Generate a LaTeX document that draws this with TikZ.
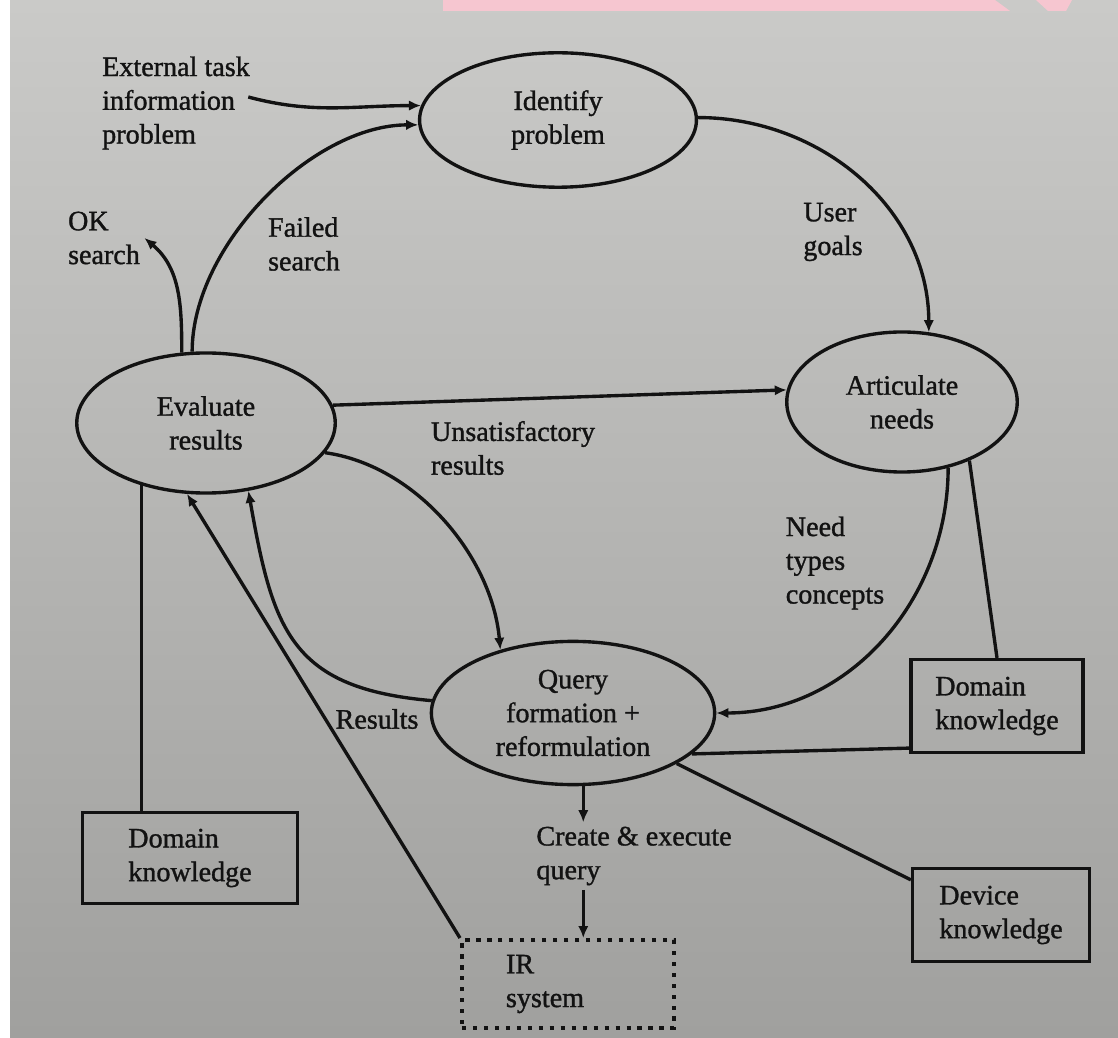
\documentclass[tikz,border=0pt]{standalone}
\usepackage{fontspec}
\setmainfont{Liberation Serif}[FakeBold=1.2]
\usetikzlibrary{arrows.meta,positioning,shapes.geometric,calc}
\definecolor{paper}{HTML}{CACAC8}
\definecolor{paperlow}{HTML}{A0A09E}
\definecolor{ink}{HTML}{121212}
\definecolor{banner}{HTML}{F6C6D0}

\begin{document}
\begin{tikzpicture}[x=0.0125cm,y=-0.0125cm,font=\normalsize,color=ink,line width=1.2pt,
  flow/.style={-{Latex[length=1.5mm,width=1.3mm]}},
  proc/.style={draw,ellipse,align=center,inner sep=0pt},
  know/.style={draw,rectangle,align=left,inner sep=1pt},
  note/.style={align=left,inner sep=1pt}]
\useasboundingbox (0,0) rectangle (1118,1038);
\shade[top color=paper,bottom color=paperlow] (10,0) rectangle (1118,1038);
\fill[white] (0,0) rectangle (10,1038);
\fill[banner] (443,0) -- (995,0) -- (1010,11) -- (443,11) -- cycle;
\fill[banner] (1036,0) -- (1072,0) -- (1066,11) -- (1048,11) -- cycle;

\node[proc,minimum width=3.46cm,minimum height=1.68cm] (idp) at (558,120) {Identify\\problem};
\node[proc,minimum width=2.88cm,minimum height=1.75cm] (art) at (902,402) {Articulate\\needs};
\node[proc,minimum width=3.23cm,minimum height=1.75cm] (evl) at (206,423) {Evaluate\\results};
\node[proc,minimum width=3.54cm,minimum height=1.79cm] (qry) at (573,713) {Query\\formation +\\reformulation};

\node[know,minimum width=2.15cm,minimum height=1.16cm] (dkr) at (997,706) {Domain\\knowledge};
\node[know,minimum width=2.68cm,minimum height=1.13cm] (dkl) at (190,858) {Domain\\knowledge};
\node[know,minimum width=2.21cm,minimum height=1.16cm] (dev) at (1001,915) {Device\\knowledge};
\node[know,line width=1.4pt,dash pattern=on 1.5pt off 2.4pt,minimum height=1.1cm,
      text width=1.55cm,inner xsep=0.55cm] (irs) at (568,984) {IR\\system};

\node[note] (ext) at (176,103) {External task\\information\\problem};
\node[note] (oks) at (104,238) {OK\\search};
\node[note] (fls) at (304,244) {Failed\\search};
\node[note] (usg) at (833,232) {User\\goals};
\node[note] (uns) at (513,448) {Unsatisfactory\\results};
\node[note] (ntc) at (835,563) {Need\\types\\concepts};
\node[note] (res) at (377,719) {Results};
\node[note] (cxq) at (634,856) {Create \& execute\\query};

\draw[flow] ($(ext.east)+(-6,-6)$) to[out=-15,in=180] (idp.174);
\draw[flow] (evl.101) to[out=90,in=180,looseness=0.85] (idp.182);
\draw[flow] (evl.109) to[out=90,in=-40] (oks.east);
\draw[flow] (idp.1) to[out=0,in=90] (art.69);
\draw[flow] (evl.8) -- (art.174);
\draw[flow] (evl.-14) to[out=-8,in=95,looseness=0.9] (qry.139);
\draw[flow] (qry.175) to[out=175,in=-80,looseness=1.3] (evl.-58);
\draw[flow] (irs.north west) -- (evl.-105);
\draw (evl.-136) -- (evl.-136 |- dkl.north);
\draw[flow] (art.-55) to[out=-90,in=0] (qry.east);
\draw (art.-41) -- (dkr.north);
\draw (qry.-19) -- ($(dkr.south west)+(0,-6)$);
\draw (qry.-26) -- ($(dev.north west)+(0,13)$);
\draw[flow] (qry.-82) -- (qry.-82 |- cxq.north);
\draw[flow] (qry.-82 |- cxq.south) -- (qry.-82 |- irs.north);
\end{tikzpicture}
\end{document}
